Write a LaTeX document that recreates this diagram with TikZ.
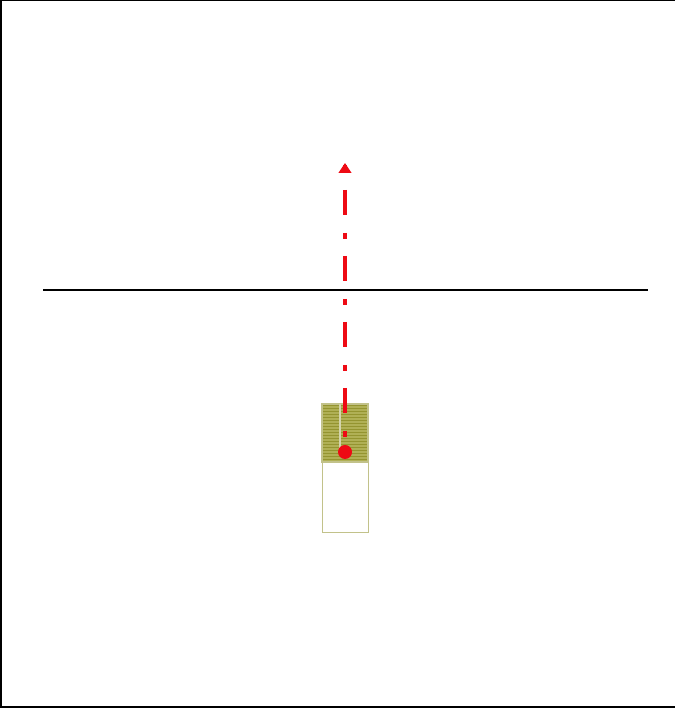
\documentclass[tikz,border=0pt]{standalone}
\usepackage{tikz}
\usetikzlibrary{arrows.meta,positioning}
\definecolor{markred}{HTML}{EE0A14}
\definecolor{boxolive}{HTML}{949430}
\definecolor{stripeolive}{HTML}{B0B055}
\definecolor{edgeolive}{HTML}{C2C28A}

\begin{document}
\begin{tikzpicture}[>=Triangle, thick,
 upperbox/.style={draw=boxolive, rectangle, fill=boxolive, minimum width=0.92cm, minimum height=1.16cm, inner sep=0pt, outer sep=0pt},
 lowerbox/.style={draw=edgeolive, rectangle, fill=white, line width=0.5pt, minimum width=0.92cm, minimum height=1.40cm, inner sep=0pt, outer sep=0pt},
 ray/.style={draw=markred, line width=0.09cm, dash pattern=on 0.5cm off 0.36cm on 0.12cm off 0.34cm},
 origin/.style={circle, fill=markred, minimum size=0.28cm, inner sep=0pt}]
\useasboundingbox (0,0) rectangle (13.5,14.18);
% frame
\draw[line width=0.04cm] (0.02,0.04) -- (0.02,14.18);
\draw[line width=0.03cm] (0,14.165) -- (13.5,14.165);
\draw[line width=0.04cm] (0,0.04) -- (13.5,0.04);
% surface
\coordinate (sl) at (0.86,8.38);
\coordinate (sr) at (12.96,8.38);
\draw[line width=0.045cm] (sl) -- (sr);
% box
\node[upperbox] (top) at (6.90,5.52) {};
\node[lowerbox, below=0pt of top] (bot) {};
\foreach \k in {1,...,19}
  \draw[stripeolive, line width=0.6pt] ([yshift=-\k*0.06cm]top.north west) -- ([yshift=-\k*0.06cm]top.north east);
\draw[edgeolive, line width=0.6pt] (top.south west) rectangle (top.north east);
\draw[edgeolive!70, line width=0.7pt] ([xshift=-0.1cm]top.north) -- ([xshift=-0.1cm,yshift=-0.9cm]top.north);
% ray
\node[origin] (src) at (6.90,5.14) {};
\coordinate (tip) at (6.90,10.92);
\coordinate (raytop) at (6.90,10.38);
\draw[ray] (raytop) -- (src.center);
\draw[markred, -{Triangle[width=0.25cm,length=0.2cm]}, line width=0.09cm] ([yshift=-0.05cm]tip) -- (tip);
\end{tikzpicture}
\end{document}
